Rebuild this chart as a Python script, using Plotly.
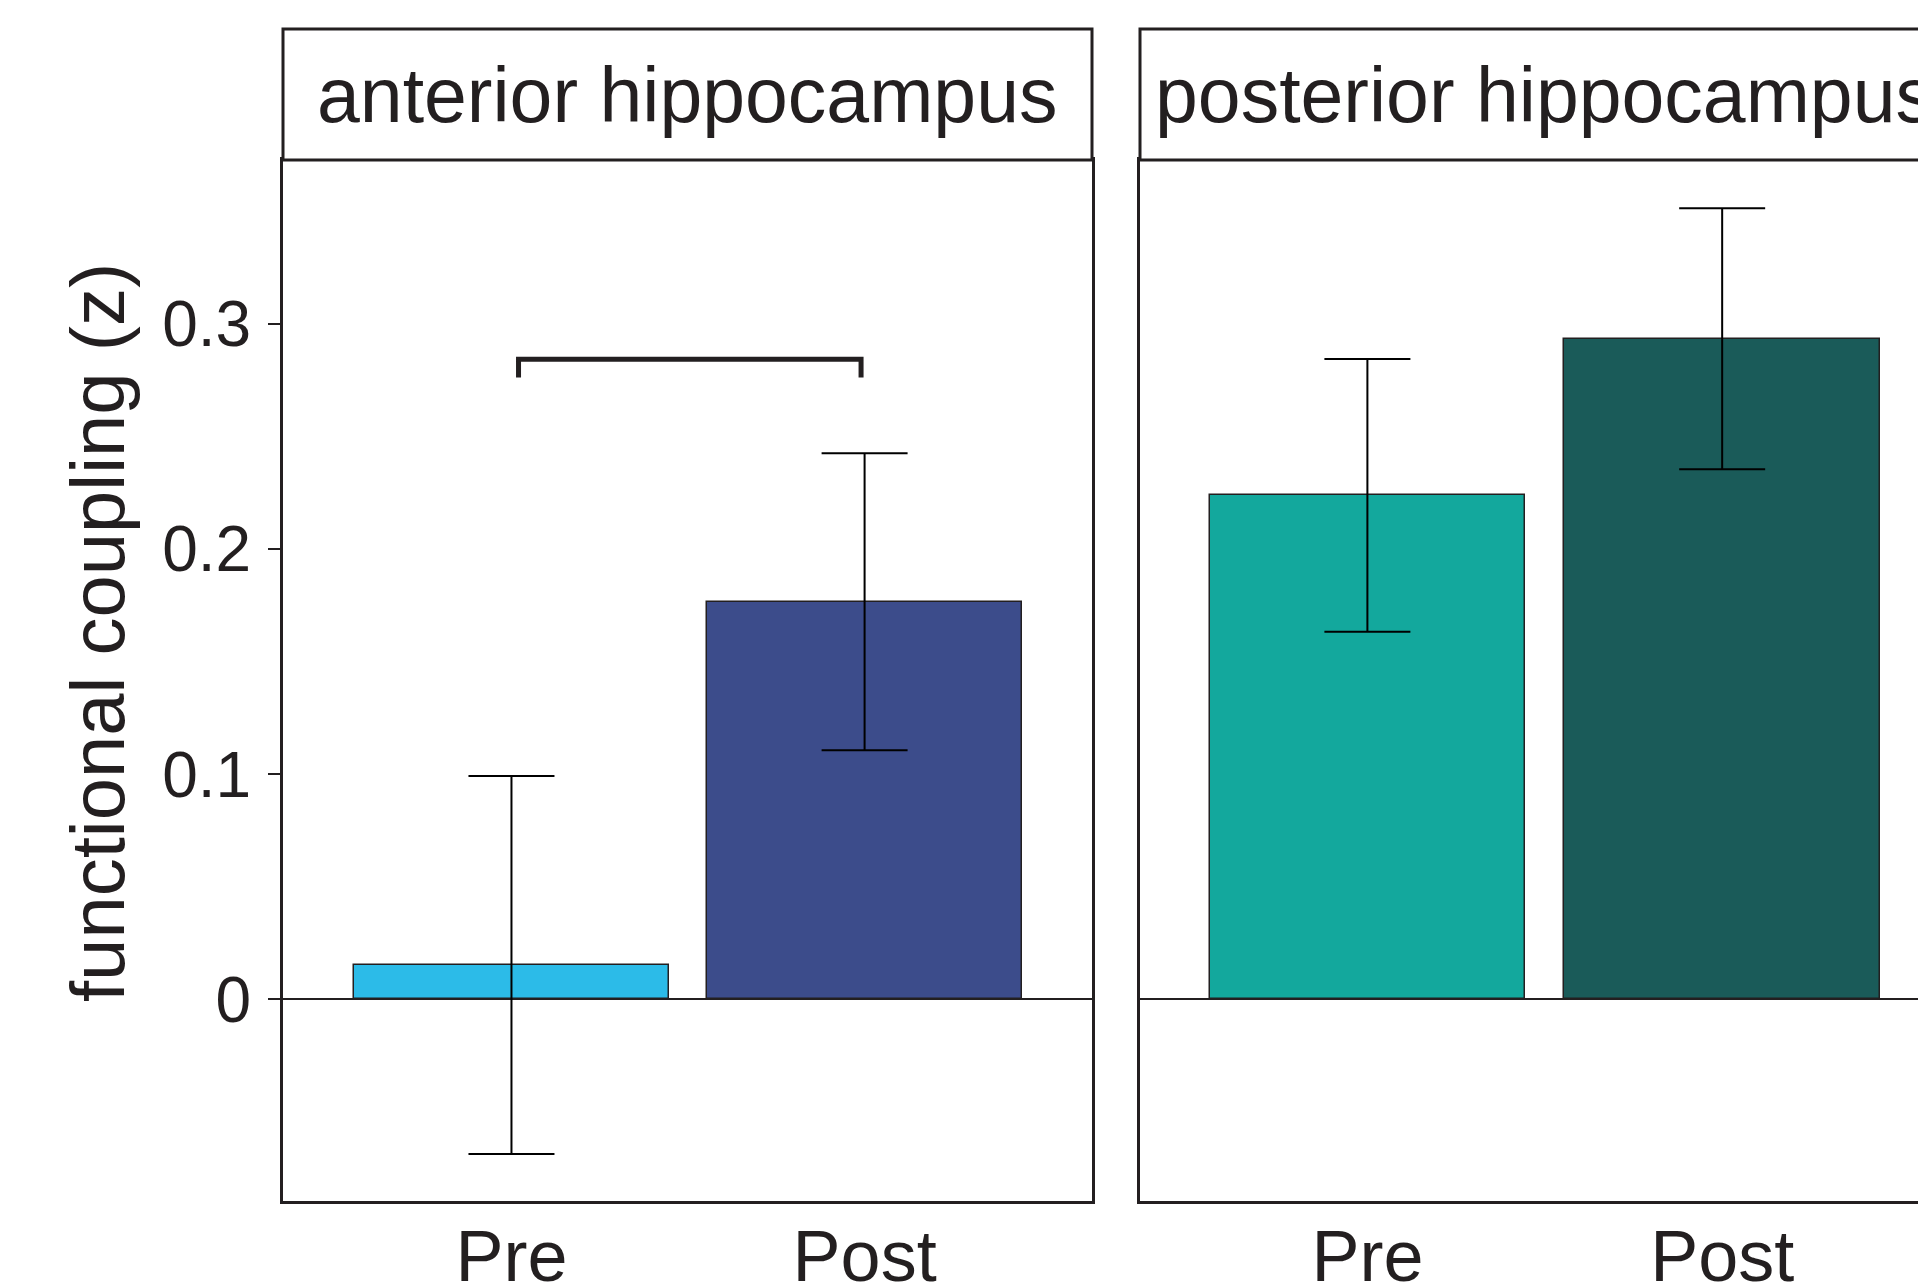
import plotly.graph_objects as go

# ---------------- data ----------------
categories = ["Pre", "Post"]
panel_titles = ["anterior hippocampus", "posterior hippocampus"]
anterior_means = [0.0152, 0.1766]
anterior_err = [0.084, 0.066]
posterior_means = [0.2239, 0.2935]
posterior_err = [0.0606, 0.058]
anterior_colors = ["#2CBBE8", "#3C4C8B"]
posterior_colors = ["#13A89D", "#1A5B59"]
y_tickvals = [0, 0.1, 0.2, 0.3]
y_ticktext = ["0", "0.1", "0.2", "0.3"]
bracket_x = [0.02, 0.02, 0.99, 0.99]
bracket_y = [0.2762, 0.2844, 0.2844, 0.2762]
y_title = "functional coupling (z)"

# ---------------- layout constants ----------------
W, H = 1918, 1287
INK = "#231F20"
FONT = "Liberation Sans, Arial, Helvetica, sans-serif"

left_x0, left_x1 = 283, 1092
right_x0, right_x1 = 1140, 1918
strip_top, plot_top, plot_bot = 29, 160, 1201

def px(x):
    return x / W

def py(y):
    return 1 - y / H

xpos = list(range(len(categories)))

fig = go.Figure()

fig.add_trace(go.Bar(
    x=xpos, y=anterior_means, width=0.89,
    marker=dict(color=anterior_colors, line=dict(color=INK, width=1.5)),
    error_y=dict(type="data", array=anterior_err, color="black", thickness=2, width=43),
    xaxis="x", yaxis="y", showlegend=False))

fig.add_trace(go.Scatter(
    x=bracket_x, y=bracket_y, mode="lines",
    line=dict(color=INK, width=5), xaxis="x", yaxis="y",
    showlegend=False, hoverinfo="skip"))

fig.add_trace(go.Bar(
    x=xpos, y=posterior_means, width=0.89,
    marker=dict(color=posterior_colors, line=dict(color=INK, width=1.5)),
    error_y=dict(type="data", array=posterior_err, color="black", thickness=2, width=43),
    xaxis="x2", yaxis="y2", showlegend=False))

yrange = [-0.0897, 0.3729]

common_x = dict(
    tickmode="array", tickvals=xpos, ticktext=categories,
    ticks="", showgrid=False, zeroline=False,
    showline=True, linecolor=INK, linewidth=3, mirror=True,
    tickfont=dict(family=FONT, size=72, color=INK),
    ticklabelstandoff=-9, automargin=False, fixedrange=True,
)

fig.update_layout(
    width=W, height=H,
    margin=dict(l=0, r=0, t=0, b=0),
    paper_bgcolor="white", plot_bgcolor="white",
    font=dict(family=FONT, color=INK),
    bargap=0,
    xaxis=dict(domain=[px(left_x0), px(left_x1)], range=[-0.647, 1.644], anchor="y", **common_x),
    xaxis2=dict(domain=[px(right_x0), px(right_x1)], range=[-0.641, 1.552], anchor="y2", **common_x),
    yaxis=dict(
        domain=[py(plot_bot), py(plot_top)], range=yrange, anchor="x",
        tickmode="array", tickvals=y_tickvals, ticktext=y_ticktext,
        ticks="outside", ticklen=12, tickwidth=2, tickcolor=INK,
        tickfont=dict(family=FONT, size=64, color=INK),
        ticklabelstandoff=4,
        showgrid=False, zeroline=True, zerolinecolor=INK, zerolinewidth=1.5,
        showline=True, linecolor=INK, linewidth=3, mirror=True,
        automargin=False, fixedrange=True,
    ),
    yaxis2=dict(
        domain=[py(plot_bot), py(plot_top)], range=yrange, anchor="x2",
        showticklabels=False, ticks="",
        showgrid=False, zeroline=True, zerolinecolor=INK, zerolinewidth=1.5,
        showline=True, linecolor=INK, linewidth=3, mirror=False,
        automargin=False, fixedrange=True,
    ),
)

# strips (facet headers)
for x0, x1 in [(left_x0, left_x1), (right_x0, right_x1 + 40)]:
    fig.add_shape(type="rect", xref="paper", yref="paper",
                  x0=px(x0), x1=px(x1), y0=py(plot_top), y1=py(strip_top),
                  line=dict(color=INK, width=3), fillcolor="white", layer="above")

panel_centers = [(left_x0 + left_x1) / 2, right_x0 + (left_x1 - left_x0) / 2]
for title, cx in zip(panel_titles, panel_centers):
    fig.add_annotation(text=title, xref="paper", yref="paper",
                       x=px(cx), y=py((strip_top + plot_top) / 2),
                       xanchor="center", yanchor="middle", showarrow=False,
                       font=dict(family=FONT, size=77, color=INK))

fig.add_annotation(text=y_title, xref="paper", yref="paper",
                   x=px(97), y=py(633), textangle=-90,
                   xanchor="center", yanchor="middle", showarrow=False,
                   font=dict(family=FONT, size=76, color=INK))

fig.write_html("out.html", config={"displayModeBar": False},
               post_script="document.body.style.margin='0';document.body.style.overflow='hidden';")
